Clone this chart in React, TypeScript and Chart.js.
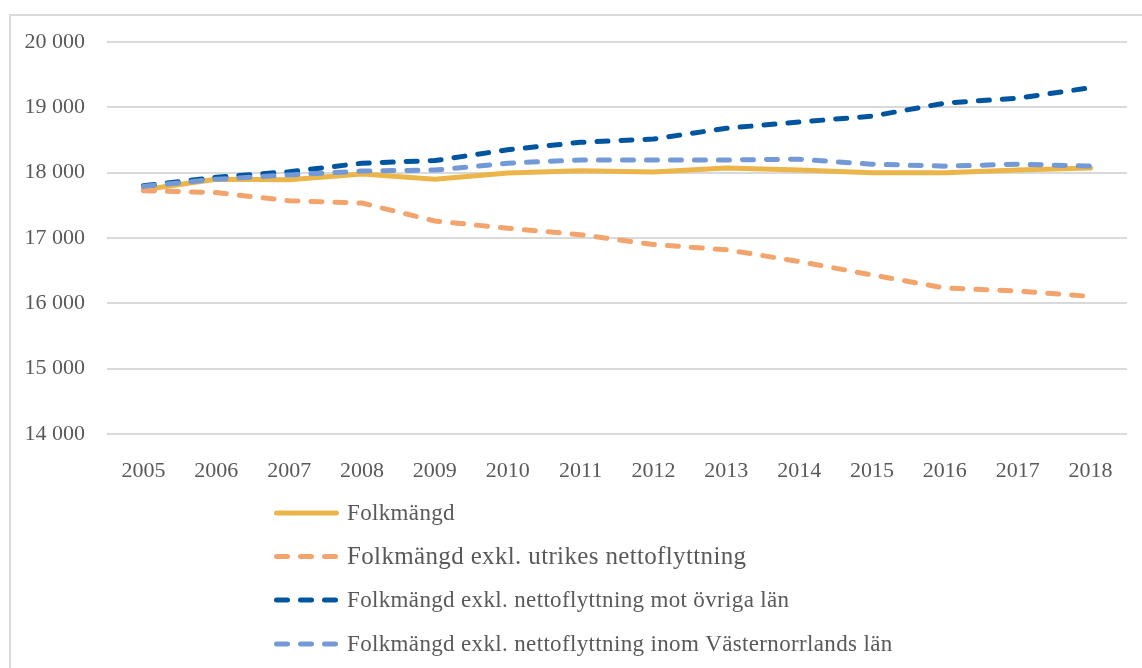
import React, { useEffect, useRef } from "react";
import { Chart, registerables } from "chart.js";

Chart.register(...registerables);

const years = ["2005", "2006", "2007", "2008", "2009", "2010", "2011", "2012", "2013", "2014", "2015", "2016", "2017", "2018"];
const folkmangd = [17740, 17900, 17890, 17980, 17900, 17995, 18030, 18010, 18070, 18040, 18000, 18000, 18040, 18070];
const exklUtrikes = [17725, 17695, 17570, 17535, 17260, 17150, 17050, 16900, 16820, 16640, 16435, 16235, 16190, 16105];
const exklOvrigaLan = [17800, 17930, 18015, 18145, 18185, 18350, 18465, 18515, 18680, 18775, 18865, 19065, 19140, 19300];
const exklInomLan = [17790, 17900, 17965, 18025, 18040, 18145, 18195, 18195, 18195, 18205, 18130, 18100, 18130, 18100];

const seriesNames = [
  "Folkmängd",
  "Folkmängd exkl. utrikes nettoflyttning",
  "Folkmängd exkl. nettoflyttning mot övriga län",
  "Folkmängd exkl. nettoflyttning inom Västernorrlands län",
];
const seriesColors = ["#ECB54A", "#F3A46D", "#0055A0", "#7399D7"];
const legendFontSizes = [23, 25, 23, 23];

const FONT = "'Liberation Serif', 'Times New Roman', serif";
const TEXT = "#595959";
const GRID = "#d9d9d9";
const DASH = [11, 13];

const fmt = (v: number) => String(v).replace(/\B(?=(\d{3})+(?!\d))/g, " ");

const framePlugin = {
  id: "frame",
  beforeDraw(chart: any) {
    const ctx = chart.ctx;
    ctx.save();
    ctx.strokeStyle = GRID;
    ctx.lineWidth = 2;
    ctx.beginPath();
    ctx.moveTo(10, 700);
    ctx.lineTo(10, 15);
    ctx.lineTo(1160, 15);
    ctx.stroke();
    ctx.restore();
  },
};

const legendPlugin = {
  id: "customLegend",
  afterDraw(chart: any) {
    const ctx = chart.ctx;
    const rows = [513, 556.5, 600, 644];
    ctx.save();
    chart.data.datasets.forEach((ds: any, i: number) => {
      const y = rows[i];
      ctx.beginPath();
      ctx.strokeStyle = ds.borderColor;
      ctx.lineWidth = 5;
      ctx.lineCap = "round";
      ctx.setLineDash(ds.borderDash || []);
      ctx.moveTo(276.5, y);
      ctx.lineTo(336.5, y);
      ctx.stroke();
      ctx.setLineDash([]);
      ctx.fillStyle = TEXT;
      ctx.font = `${legendFontSizes[i]}px ${FONT}`;
      try {
        (ctx as any).letterSpacing = "0.35px";
      } catch (e) {}
      ctx.textAlign = "left";
      ctx.textBaseline = "middle";
      ctx.fillText(ds.label, 347, y + 1);
    });
    ctx.restore();
  },
};

export default function App() {
  const ref = useRef<HTMLCanvasElement>(null);

  useEffect(() => {
    document.body.style.margin = "0";
    document.body.style.overflow = "hidden";
    const values = [folkmangd, exklUtrikes, exklOvrigaLan, exklInomLan];
    const chart = new Chart(ref.current as HTMLCanvasElement, {
      type: "line",
      data: {
        labels: years,
        datasets: values.map((d, i) => ({
          label: seriesNames[i],
          data: d,
          borderColor: seriesColors[i],
          backgroundColor: seriesColors[i],
          borderWidth: 5,
          borderDash: i === 0 ? [] : DASH,
          borderCapStyle: "round" as const,
          borderJoinStyle: "round" as const,
          pointRadius: 0,
          tension: 0,
          fill: false,
          order: 4 - i,
        })),
      },
      options: {
        responsive: false,
        animation: false,
        layout: { padding: { left: 0, right: 15, top: 42, bottom: 174 } },
        plugins: {
          legend: { display: false },
          tooltip: { enabled: false },
        },
        scales: {
          x: {
            offset: true,
            grid: { display: false, drawTicks: false },
            border: { display: false },
            ticks: {
              color: TEXT,
              font: { family: FONT, size: 22 },
              padding: 24,
              maxRotation: 0,
              autoSkip: false,
            },
            afterFit: (s: any) => {
              s.height = 60;
            },
          },
          y: {
            min: 14000,
            max: 20000,
            grid: { color: GRID, lineWidth: 2, drawTicks: false },
            border: { display: false },
            ticks: {
              stepSize: 1000,
              color: TEXT,
              font: { family: FONT, size: 22 },
              padding: 22,
              callback: (v: any) => fmt(Number(v)),
            },
            afterFit: (s: any) => {
              s.width = 107;
            },
          },
        },
      },
      plugins: [framePlugin, legendPlugin],
    });
    return () => chart.destroy();
  }, []);

  return (
    <div style={{ width: 1142, height: 668, position: "relative" }}>
      <canvas ref={ref} width={1142} height={668} />
    </div>
  );
}
